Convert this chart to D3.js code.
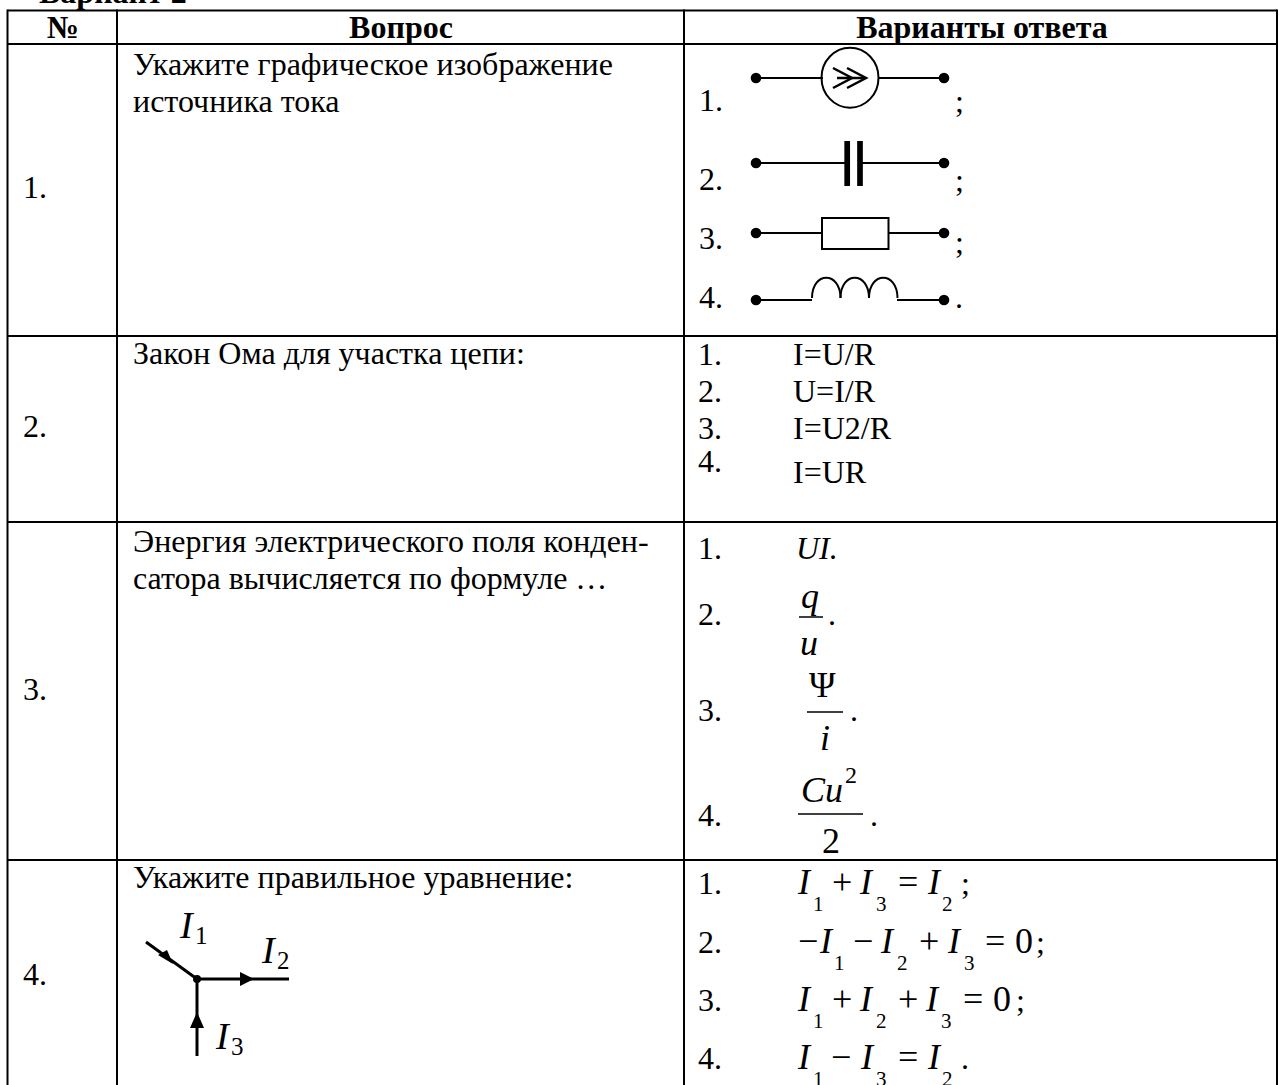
<!DOCTYPE html>
<html>
<head>
<meta charset="utf-8">
<script src="https://cdn.jsdelivr.net/npm/d3@7"></script>
<style>
  html, body { margin: 0; padding: 0; background: #fff; overflow: hidden; }
  text { font-family: "Liberation Serif", serif; fill: #000; }
</style>
</head>
<body>
<div id="chart"></div>
<script>
// table content
const title = 'Вариант 2';
const headers = ['№', 'Вопрос', 'Варианты ответа'];
const rowNumbers = ['1.', '2.', '3.', '4.'];
const questions = [
  ['Укажите графическое изображение', 'источника тока'],
  ['Закон Ома для участка цепи:'],
  ['Энергия электрического поля конден-', 'сатора вычисляется по формуле …'],
  ['Укажите правильное уравнение:'],
];
const answerNumbers = ['1.', '2.', '3.', '4.'];
const ohmAnswers = ['I=U/R', 'U=I/R', 'I=U2/R', 'I=UR'];
const symbolEnds = [';', ';', ';', '.'];
const kirchhoffTokens = [
  ['I', '1', '+', 'I', '3', '=', 'I', '2', ';'],
  ['−', 'I', '1', '−', 'I', '2', '+', 'I', '3', '=', '0', ';'],
  ['I', '1', '+', 'I', '2', '+', 'I', '3', '=', '0', ';'],
  ['I', '1', '−', 'I', '3', '=', 'I', '2', '.'],
];

// layout
const width = 1279;
const height = 1085;
const colEdges = [7.5, 117, 684, 1277];
const rowEdges = [10.5, 44, 336, 522, 860];
const fontSize = 32;

const svg = d3
  .select('#chart')
  .append('svg')
  .attr('width', width)
  .attr('height', height)
  .style('display', 'block');

const addText = (x, y, str, opts = {}) =>
  svg
    .append('text')
    .attr('x', x)
    .attr('y', y)
    .attr('text-anchor', opts.anchor || 'start')
    .style('font-size', (opts.size || fontSize) + 'px')
    .style('font-weight', opts.bold ? 'bold' : 'normal')
    .style('font-style', opts.italic ? 'italic' : 'normal')
    .text(str);

const line = d3.line();
const addPath = (pts, w = 2) =>
  svg
    .append('path')
    .attr('d', line(pts))
    .attr('fill', 'none')
    .attr('stroke', '#000')
    .attr('stroke-width', w);

// grid
svg
  .selectAll('line.col')
  .data(colEdges)
  .join('line')
  .attr('class', 'col')
  .attr('x1', (d) => d)
  .attr('x2', (d) => d)
  .attr('y1', rowEdges[0] - 1)
  .attr('y2', height)
  .attr('stroke', '#000')
  .attr('stroke-width', 2);

svg
  .selectAll('line.row')
  .data(rowEdges)
  .join('line')
  .attr('class', 'row')
  .attr('x1', colEdges[0])
  .attr('x2', colEdges[3])
  .attr('y1', (d) => d)
  .attr('y2', (d) => d)
  .attr('stroke', '#000')
  .attr('stroke-width', 2);

// title and header
addText(39, 3, title, { bold: true });
const headerX = [63, 401, 982];
headers.forEach((h, i) =>
  addText(headerX[i], 38, h, { anchor: 'middle', bold: true })
);

// left columns
const numberY = [198, 437, 700, 985];
rowNumbers.forEach((n, i) => addText(23, numberY[i], n));

const questionY = [75, 364, 552, 888];
questions.forEach((lines, i) =>
  lines.forEach((l, j) => addText(133, questionY[i] + j * 37, l))
);

// circuit symbols
const wireX = [756, 944];
const symbolY = [78, 163, 233, 300];
const numY = [111, 190, 249, 308];
const endY = [112, 191, 253, 308];
const symbolGaps = [
  [823, 879],
  [847, 860],
  [822, 889],
  [812, 897],
];

symbolY.forEach((y, i) => {
  addPath([[wireX[0], y], [symbolGaps[i][0], y]]);
  addPath([[symbolGaps[i][1], y], [wireX[1], y]]);
  wireX.forEach((x) =>
    svg.append('circle').attr('cx', x).attr('cy', y).attr('r', 5.3).attr('fill', '#000')
  );
  addText(699, numY[i], answerNumbers[i]);
  addText(955, endY[i], symbolEnds[i]);
});

// source
svg
  .append('ellipse')
  .attr('cx', 850)
  .attr('cy', 77.7)
  .attr('rx', 28.5)
  .attr('ry', 30)
  .attr('fill', 'none')
  .attr('stroke', '#000')
  .attr('stroke-width', 2);
addPath([[837, 78], [864, 78]], 2.5);
addPath([[833, 68], [852, 78], [833, 88]], 2.5);
addPath([[847, 68], [866, 78], [847, 88]], 2.5);

// capacitor
[847.2, 860].forEach((x) => addPath([[x, 141], [x, 186]], 5.7));

// resistor
svg
  .append('rect')
  .attr('x', 822)
  .attr('y', 218)
  .attr('width', 66.5)
  .attr('height', 31)
  .attr('fill', 'none')
  .attr('stroke', '#000')
  .attr('stroke-width', 2);

// inductor
const humps = [812, 840.5, 869];
humps.forEach((x) =>
  svg
    .append('path')
    .attr('d', `M${x},298 C${x},271 ${x + 28.5},271 ${x + 28.5},298`)
    .attr('fill', 'none')
    .attr('stroke', '#000')
    .attr('stroke-width', 2)
);

// Ohm's law answers
const ohmNumY = [365, 402, 439, 472];
const ohmY = [365, 402, 439, 483];
ohmAnswers.forEach((a, i) => {
  addText(698, ohmNumY[i], answerNumbers[i]);
  addText(793, ohmY[i], a);
});

// capacitor energy answers
const energyNumY = [559, 625, 721, 826];
energyNumY.forEach((y, i) => addText(698, y, answerNumbers[i]));
const big = 36;
addText(796, 559, 'UI', { italic: true });
addText(829, 559, '.');

addText(801, 608, 'q', { italic: true, size: big });
addPath([[799, 617], [823, 617]], 1.5);
addText(800, 655, 'u', { italic: true, size: big });
addText(828, 625, '.');

addText(809, 697, 'Ψ', { size: big });
addPath([[807, 712], [843, 712]], 1.5);
addText(820, 750, 'i', { italic: true, size: big });
addText(850, 721, '.');

addText(801, 802, 'Cu', { italic: true, size: big });
addText(845, 783, '2', { size: 24 });
addPath([[798, 814], [863, 814]], 1.5);
addText(822, 853, '2', { size: big });
addText(870, 826, '.');

// Kirchhoff answers
const tokenX = [
  [0, 15, 34, 62, 78, 100, 130, 144, 163],
  [0, 22, 36, 55, 83, 99, 121, 150, 166, 187, 217, 238],
  [0, 15, 34, 62, 78, 100, 128, 143, 165, 195, 218],
  [0, 15, 33, 63, 78, 100, 130, 144, 163],
];
const kirchhoffY = [894, 953, 1011, 1069];
kirchhoffTokens.forEach((tokens, i) => {
  addText(698, kirchhoffY[i], answerNumbers[i]);
  tokens.forEach((t, j) => {
    const x = 798 + tokenX[i][j];
    if (/[123]/.test(t)) addText(x, kirchhoffY[i] + 17, t, { size: 21 });
    else if (t === 'I') addText(x, kirchhoffY[i], t, { italic: true, size: big });
    else if (t === ';' || t === '.') addText(x, kirchhoffY[i], t);
    else addText(x, kirchhoffY[i], t, { size: big });
  });
});

// node diagram
const node = [197, 979];
addPath([[146, 942], node], 3);
addPath([node, [289, 979]], 3);
addPath([node, [197, 1056]], 3);
svg.append('circle').attr('cx', node[0]).attr('cy', node[1]).attr('r', 4).attr('fill', '#000');
const arrows = [
  [[158, 955], [173, 964], [167, 950]],
  [[240, 972], [254, 979], [240, 986]],
  [[190, 1028], [197, 1012], [204, 1028]],
];
arrows.forEach((a) =>
  svg.append('path').attr('d', line(a) + 'Z').attr('fill', '#000')
);
[[180, 938, 'I', '1'], [262, 963, 'I', '2'], [216, 1049, 'I', '3']].forEach((d) => {
  addText(d[0], d[1], d[2], { italic: true, size: 38 });
  addText(d[0] + 15, d[1] + 6, d[3], { size: 25 });
});
</script>
</body>
</html>
